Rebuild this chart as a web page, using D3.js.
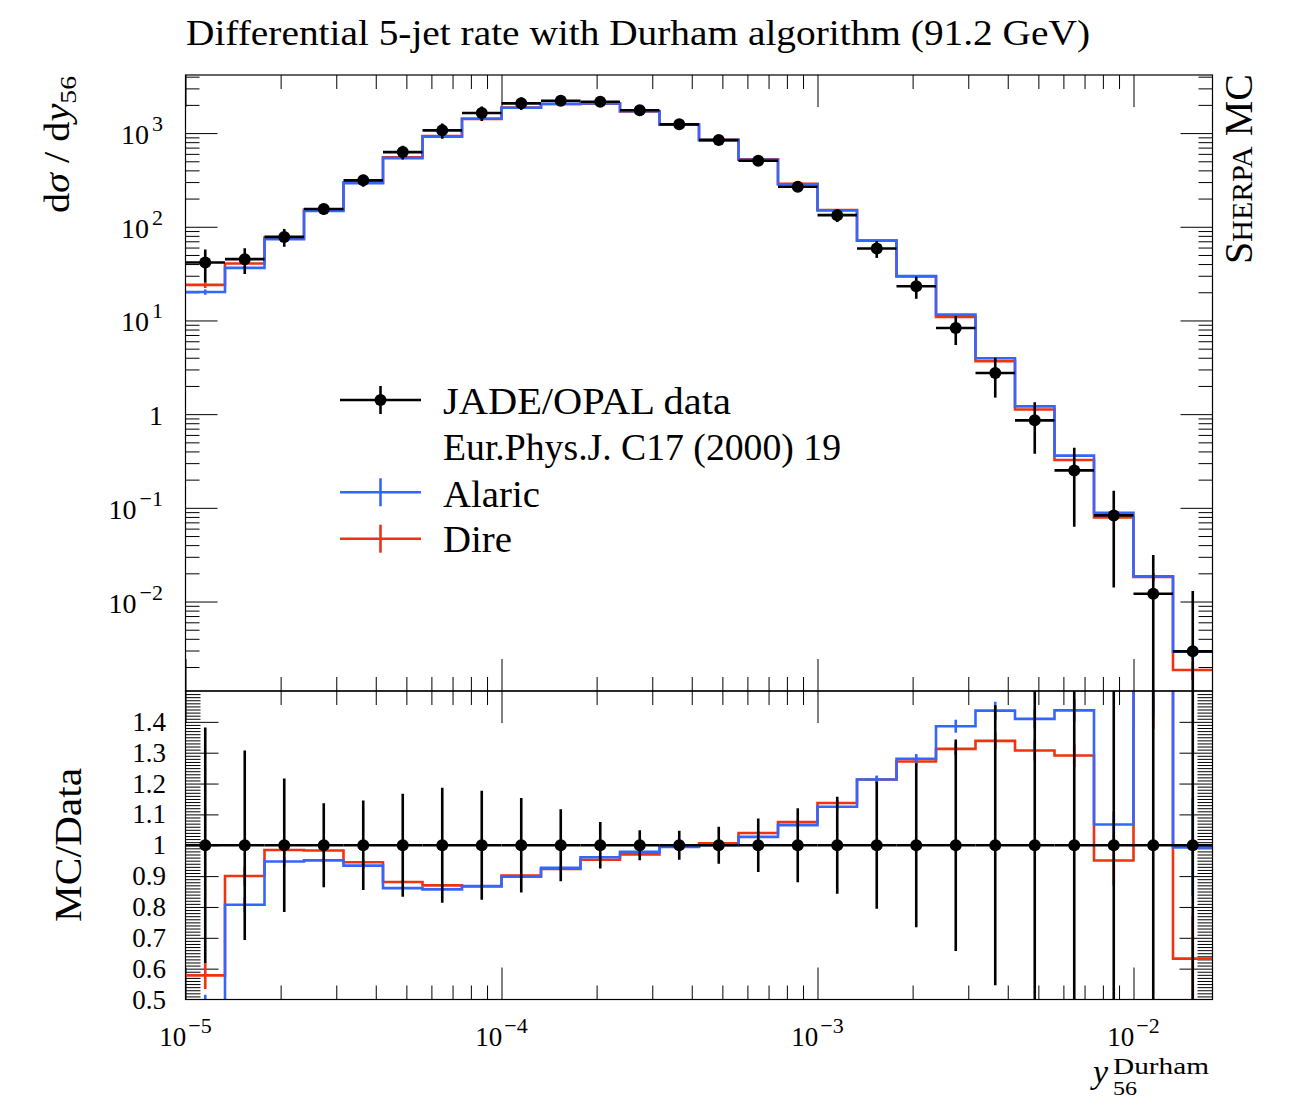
<!DOCTYPE html>
<html><head><meta charset="utf-8">
<script src="https://cdn.jsdelivr.net/npm/d3@7"></script>
<style>
body{margin:0;background:#fff}
svg{display:block}
text{font-family:"Liberation Serif","DejaVu Serif",serif;fill:#000}
</style>
</head><body>
<svg id="chart" width="1292" height="1099"></svg>
<script>
// ---- data ----
const binEdges = [1e-5, 1.3335e-5, 1.7783e-5, 2.3714e-5, 3.1623e-5, 4.2170e-5, 5.6234e-5, 7.4989e-5,
  1e-4, 1.3335e-4, 1.7783e-4, 2.3714e-4, 3.1623e-4, 4.2170e-4, 5.6234e-4, 7.4989e-4,
  1e-3, 1.3335e-3, 1.7783e-3, 2.3714e-3, 3.1623e-3, 4.2170e-3, 5.6234e-3, 7.4989e-3,
  1e-2, 1.3335e-2, 1.7783e-2];
const dataValues = [41.5, 45.1, 78, 155, 313, 627, 1069, 1636, 2077, 2213, 2159, 1750, 1239, 842, 506, 267, 133, 58.6, 23.2, 8.32, 2.75, 0.859, 0.251, 0.083, 0.0121, 0.00294];
const dataRelErr = [0.382, 0.307, 0.216, 0.136, 0.145, 0.167, 0.186, 0.177, 0.153, 0.117, 0.075, 0.049, 0.047, 0.06, 0.087, 0.12, 0.157, 0.206, 0.266, 0.343, 0.454, 0.56, 0.75, 0.83, 1.6, 3.4];
const alaricValues = [20.1, 36.4, 73.9, 147.4, 292.3, 539.8, 916.1, 1420, 1865, 2051, 2075, 1713, 1232, 842, 519.7, 284.4, 149.6, 71.1, 29.7, 11.53, 3.95, 1.211, 0.3607, 0.0886, 0.0186, 0.00292];
const alaricRelErr = [0.064, 0.03, 0.015, 0.01, 0.008, 0.006, 0.005, 0.005, 0.005, 0.005, 0.005, 0.005, 0.005, 0.005, 0.006, 0.007, 0.008, 0.01, 0.012, 0.015, 0.02, 0.022, 0.025, 0.04, 0.08, 0.16];
const direValues = [24.0, 40.6, 76.8, 152.4, 295.8, 552.4, 930, 1417, 1873, 2043, 2058, 1698, 1235, 847, 526, 287, 151.2, 71.1, 29.5, 10.92, 3.68, 1.123, 0.324, 0.0789, 0.0183, 0.00186];
const direRelErr = [0.076, 0.035, 0.015, 0.01, 0.008, 0.006, 0.005, 0.005, 0.005, 0.005, 0.005, 0.005, 0.005, 0.005, 0.006, 0.007, 0.008, 0.01, 0.012, 0.015, 0.02, 0.025, 0.028, 0.085, 0.09, 0.22];

const seriesNames = ["JADE/OPAL data", "Alaric", "Dire"];
const dataReference = "Eur.Phys.J. C17 (2000) 19";
const xTickValues = [1e-5, 1e-4, 1e-3, 1e-2];
const xTickLabels = [["10","−5"],["10","−4"],["10","−3"],["10","−2"]];
const yTickValues = [1e-2, 1e-1, 1, 1e1, 1e2, 1e3];
const yTickLabels = [["10","−2"],["10","−1"],["1",""],["10","1"],["10","2"],["10","3"]];
const ratioTickValues = [0.5, 0.6, 0.7, 0.8, 0.9, 1.0, 1.1, 1.2, 1.3, 1.4];
const ratioTickLabels = ["0.5","0.6","0.7","0.8","0.9","1","1.1","1.2","1.3","1.4"];

// ---- layout ----
const L = 185.5, R = 1212.5, T1 = 75, B1 = 691, T2 = 691, B2 = 999.5;
const RED = "#EE3311", BLUE = "#3366FF";

const svg = d3.select("#chart");
const x = d3.scaleLog().domain([binEdges[0], binEdges[binEdges.length-1]]).range([L, R]);
const yTop = d3.scaleLog().domain([Math.pow(10,-2.955), Math.pow(10,3.62)]).range([B1, T1]);
const yRat = d3.scaleLinear().domain([0.5, 1.5]).range([B2, T2]);

const defs = svg.append("defs");
defs.append("clipPath").attr("id","clipTop").append("rect").attr("x",L).attr("y",T1).attr("width",R-L).attr("height",B1-T1);
defs.append("clipPath").attr("id","clipRat").append("rect").attr("x",L).attr("y",T2).attr("width",R-L).attr("height",B2-T2);

// ---- ticks ----
const xMinor = [];
for (let e=-5;e<=-2;e++) for (let m=2;m<=9;m++){ const v=m*Math.pow(10,e); if (v<=binEdges[binEdges.length-1]) xMinor.push(v); }
const yMinor = [];
for (let e=-3;e<=3;e++) for (let m=2;m<=9;m++){ const v=m*Math.pow(10,e); if (v>=yTop.domain()[0] && v<=yTop.domain()[1]) yMinor.push(v); }
const rMinor = d3.range(51,150).filter(k=>k%10!==0).map(k=>k/100);
const rMajor = ratioTickValues.filter(v=>v>0.5);

function tickGroup(axis, tx, ty){
  const g = svg.append("g").attr("transform",`translate(${tx},${ty})`).call(axis);
  g.select(".domain").remove();
  g.selectAll("line").attr("stroke","#000").attr("stroke-width",1);
  return g;
}
const MAJ = 32, MIN = 14;
[[T1,B1],[T2,B2]].forEach(([t,b])=>{
  tickGroup(d3.axisBottom(x).tickValues(xTickValues).tickSize(MAJ).tickFormat(""), 0, t);
  tickGroup(d3.axisBottom(x).tickValues(xMinor).tickSize(MIN).tickFormat(""), 0, t);
  tickGroup(d3.axisTop(x).tickValues(xTickValues).tickSize(MAJ).tickFormat(""), 0, b);
  tickGroup(d3.axisTop(x).tickValues(xMinor).tickSize(MIN).tickFormat(""), 0, b);
});
tickGroup(d3.axisRight(yTop).tickValues(yTickValues).tickSize(MAJ).tickFormat(""), L, 0);
tickGroup(d3.axisRight(yTop).tickValues(yMinor).tickSize(MIN).tickFormat(""), L, 0);
tickGroup(d3.axisLeft(yTop).tickValues(yTickValues).tickSize(MAJ).tickFormat(""), R, 0);
tickGroup(d3.axisLeft(yTop).tickValues(yMinor).tickSize(MIN).tickFormat(""), R, 0);
tickGroup(d3.axisRight(yRat).tickValues(rMajor).tickSize(33).tickFormat(""), L, 0);
tickGroup(d3.axisRight(yRat).tickValues(rMinor).tickSize(15).tickFormat(""), L, 0);
tickGroup(d3.axisLeft(yRat).tickValues(rMajor).tickSize(33).tickFormat(""), R, 0);
tickGroup(d3.axisLeft(yRat).tickValues(rMinor).tickSize(15).tickFormat(""), R, 0);

// ---- tick labels ----
xTickValues.forEach((v,i)=>{
  const t = svg.append("text").attr("x",x(v)).attr("y",1046).attr("text-anchor","middle").attr("font-size",27);
  t.append("tspan").text(xTickLabels[i][0]);
  t.append("tspan").attr("dx",2).attr("dy",-13).attr("font-size",22).text(xTickLabels[i][1]);
});
yTickValues.forEach((v,i)=>{
  const t = svg.append("text").attr("x",163).attr("y",yTop(v)+11).attr("text-anchor","end").attr("font-size",28);
  t.append("tspan").text(yTickLabels[i][0]);
  if (yTickLabels[i][1]) t.append("tspan").attr("dx",3).attr("dy",-13).attr("font-size",22).text(yTickLabels[i][1]);
});
ratioTickValues.forEach((v,i)=>{
  svg.append("text").attr("x",166).attr("y",yRat(v)+9).attr("text-anchor","end").attr("font-size",27).text(ratioTickLabels[i]);
});

// ---- series drawing ----
const centers = dataValues.map((d,i)=>Math.sqrt(binEdges[i]*binEdges[i+1]));
function stepPts(vals){ const p = vals.map((v,i)=>[binEdges[i], v]); p.push([binEdges[vals.length], vals[vals.length-1]]); return p; }

const gTop = svg.append("g").attr("clip-path","url(#clipTop)");
const gRat = svg.append("g").attr("clip-path","url(#clipRat)");
const yFloorTop = yTop.domain()[0]*0.5;

function drawMC(vals, relErr, color){
  const lineTop = d3.line().x(d=>x(d[0])).y(d=>yTop(d[1])).curve(d3.curveStepAfter);
  gTop.append("path").attr("d",lineTop(stepPts(vals))).attr("fill","none").attr("stroke",color).attr("stroke-width",2.6);
  gTop.selectAll(null).data(vals).enter().append("line")
    .attr("x1",(d,i)=>x(centers[i])).attr("x2",(d,i)=>x(centers[i]))
    .attr("y1",(d,i)=>yTop(d*(1+relErr[i]))).attr("y2",(d,i)=>yTop(Math.max(d*(1-relErr[i]),yFloorTop)))
    .attr("stroke",color).attr("stroke-width",2.6);
  const ratios = vals.map((v,i)=>v/dataValues[i]);
  const lineRat = d3.line().x(d=>x(d[0])).y(d=>yRat(d[1])).curve(d3.curveStepAfter);
  gRat.append("path").attr("d",lineRat(stepPts(ratios))).attr("fill","none").attr("stroke",color).attr("stroke-width",2.6);
  gRat.selectAll(null).data(ratios).enter().append("line")
    .attr("x1",(d,i)=>x(centers[i])).attr("x2",(d,i)=>x(centers[i]))
    .attr("y1",(d,i)=>yRat(d*(1+relErr[i]))).attr("y2",(d,i)=>yRat(d*(1-relErr[i])))
    .attr("stroke",color).attr("stroke-width",2.6);
}
drawMC(direValues, direRelErr, RED);
drawMC(alaricValues, alaricRelErr, BLUE);

gTop.selectAll(null).data(dataValues).enter().append("line")
  .attr("x1",(d,i)=>x(binEdges[i])).attr("x2",(d,i)=>x(binEdges[i+1]))
  .attr("y1",d=>yTop(d)).attr("y2",d=>yTop(d)).attr("stroke","#000").attr("stroke-width",2.6);
gTop.selectAll(null).data(dataValues).enter().append("line")
  .attr("x1",(d,i)=>x(centers[i])).attr("x2",(d,i)=>x(centers[i]))
  .attr("y1",(d,i)=>yTop(d*(1+dataRelErr[i]))).attr("y2",(d,i)=>yTop(Math.max(d*(1-dataRelErr[i]),yFloorTop)))
  .attr("stroke","#000").attr("stroke-width",2.6);
gTop.selectAll(null).data(dataValues).enter().append("circle")
  .attr("cx",(d,i)=>x(centers[i])).attr("cy",d=>yTop(d)).attr("r",6).attr("fill","#000");
gRat.selectAll(null).data(dataValues).enter().append("line")
  .attr("x1",(d,i)=>x(binEdges[i])).attr("x2",(d,i)=>x(binEdges[i+1]))
  .attr("y1",yRat(1)).attr("y2",yRat(1)).attr("stroke","#000").attr("stroke-width",2.6);
gRat.selectAll(null).data(dataValues).enter().append("line")
  .attr("x1",(d,i)=>x(centers[i])).attr("x2",(d,i)=>x(centers[i]))
  .attr("y1",(d,i)=>yRat(1+dataRelErr[i])).attr("y2",(d,i)=>yRat(1-dataRelErr[i]))
  .attr("stroke","#000").attr("stroke-width",2.6);
gRat.selectAll(null).data(dataValues).enter().append("circle")
  .attr("cx",(d,i)=>x(centers[i])).attr("cy",yRat(1)).attr("r",6).attr("fill","#000");

// ---- frames ----
svg.append("rect").attr("x",L).attr("y",T1).attr("width",R-L).attr("height",B1-T1).attr("fill","none").attr("stroke","#000").attr("stroke-width",1.2);
svg.append("rect").attr("x",L).attr("y",T2).attr("width",R-L).attr("height",B2-T2).attr("fill","none").attr("stroke","#000").attr("stroke-width",1.2);

// ---- legend ----
const legendRows = [
  {name: seriesNames[0], color:"#000", y:400, marker:true, base:413.7, len:288},
  {name: dataReference, color:null, y:447, base:460, len:398},
  {name: seriesNames[1], color:BLUE, y:492.3, base:506.7, len:97},
  {name: seriesNames[2], color:RED, y:538.7, base:552.3, len:69}
];
legendRows.forEach(r=>{
  if (r.color){
    svg.append("line").attr("x1",340).attr("x2",421).attr("y1",r.y).attr("y2",r.y).attr("stroke",r.color).attr("stroke-width",2.6);
    svg.append("line").attr("x1",380.5).attr("x2",380.5).attr("y1",r.y-14).attr("y2",r.y+14).attr("stroke",r.color).attr("stroke-width",2.6);
    if (r.marker) svg.append("circle").attr("cx",380.5).attr("cy",r.y).attr("r",6).attr("fill","#000");
  }
  svg.append("text").attr("x",443).attr("y",r.base).attr("font-size",37)
    .attr("textLength",r.len).attr("lengthAdjust","spacingAndGlyphs").text(r.name);
});

// ---- titles and axis labels ----
svg.append("text").attr("x",186).attr("y",45).attr("font-size",35)
  .attr("textLength",904).attr("lengthAdjust","spacingAndGlyphs")
  .text("Differential 5-jet rate with Durham algorithm (91.2 GeV)");

const yl = svg.append("text").attr("transform","translate(69,213) rotate(-90)").attr("font-size",35)
  .attr("textLength",137).attr("lengthAdjust","spacingAndGlyphs");
yl.append("tspan").text("d");
yl.append("tspan").attr("font-style","italic").text("σ");
yl.append("tspan").text(" / d");
yl.append("tspan").attr("font-style","italic").text("y");
yl.append("tspan").attr("font-size",24).attr("dy",7).text("56");

svg.append("text").attr("transform","translate(81,922) rotate(-90)").attr("font-size",37)
  .attr("textLength",154).attr("lengthAdjust","spacingAndGlyphs").text("MC/Data");

const sh = svg.append("text").attr("transform","translate(1252,264) rotate(-90)").attr("font-size",40)
  .attr("textLength",190).attr("lengthAdjust","spacingAndGlyphs");
sh.append("tspan").text("S");
sh.append("tspan").attr("font-size",30).text("HERPA");
sh.append("tspan").text(" MC");

svg.append("text").attr("x",1093).attr("y",1083).attr("font-size",34).attr("font-style","italic").text("y");
svg.append("text").attr("x",1113).attr("y",1073.5).attr("font-size",24).attr("textLength",96).attr("lengthAdjust","spacingAndGlyphs").text("Durham");
svg.append("text").attr("x",1113).attr("y",1095).attr("font-size",19).attr("textLength",24).attr("lengthAdjust","spacingAndGlyphs").text("56");
</script>
</body></html>
